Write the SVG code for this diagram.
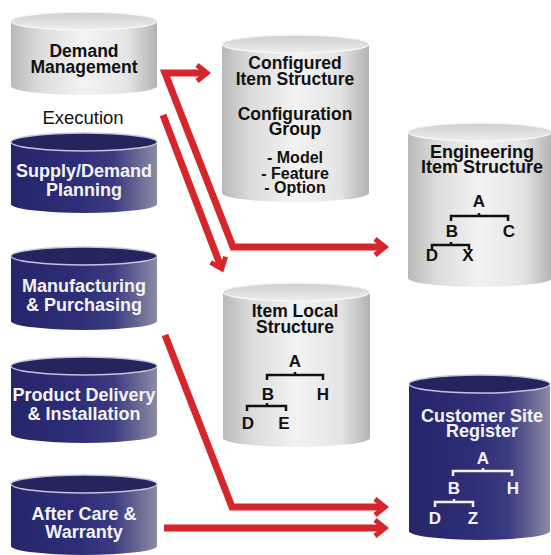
<svg xmlns="http://www.w3.org/2000/svg" width="551" height="555" viewBox="0 0 551 555">
<style>
.t{font-family:"Liberation Sans",Arial,sans-serif;font-weight:bold;text-anchor:middle}
.dk{fill:#111}
.wt{fill:#f4f4f8}
.lg{font-size:17.5px}
.nv{font-size:18px}
.sm{font-size:16px}
.tr{font-size:17px}
.gb{fill:url(#gBody)}
.gt{fill:url(#gTop);stroke:#f6f6f6;stroke-width:1.5}
.nb{fill:url(#nBody)}
.nt{fill:#24245f;stroke:#c4c4da;stroke-width:1.5}
.tb{fill:none;stroke:#111;stroke-width:2.5}
.tw{fill:none;stroke:#f4f4f8;stroke-width:2.5}
.ar{fill:none;stroke:#d7262b;stroke-width:7;stroke-linejoin:miter}
</style>
<defs>
<linearGradient id="gBody" x1="0" y1="0" x2="1" y2="0">
<stop offset="0" stop-color="#b9b9b9"/>
<stop offset="0.2" stop-color="#dcdcdc"/>
<stop offset="0.5" stop-color="#f3f3f3"/>
<stop offset="0.8" stop-color="#e4e4e4"/>
<stop offset="1" stop-color="#b3b3b3"/>
</linearGradient>
<linearGradient id="gTop" x1="0" y1="0" x2="0" y2="1">
<stop offset="0" stop-color="#cfcfcf"/>
<stop offset="1" stop-color="#ededed"/>
</linearGradient>
<linearGradient id="nBody" x1="0" y1="0" x2="1" y2="0">
<stop offset="0" stop-color="#25256a"/>
<stop offset="0.45" stop-color="#2e2e78"/>
<stop offset="0.7" stop-color="#3a3a80"/>
<stop offset="0.88" stop-color="#6a6a96"/>
<stop offset="1" stop-color="#8c8ca6"/>
</linearGradient>
<marker id="ah" markerUnits="userSpaceOnUse" viewBox="-14 -12 22 24" refX="-2" refY="0" markerWidth="22" markerHeight="24" orient="auto-start-reverse" overflow="visible">
<path d="M-10,-8 L0,0 L-10,8" fill="none" stroke="#d7262b" stroke-width="5" stroke-linejoin="miter"/>
</marker>
</defs>

<g id="demand-management">
<path class="gb" d="M11,21 L11,86 A73,9 0 0 0 157,86 L157,21 Z"/>
<ellipse class="gt" cx="84" cy="21" rx="73" ry="9"/>
<text class="t dk lg" x="84" y="57">Demand</text>
<text class="t dk lg" x="84" y="73">Management</text>
</g>

<g id="execution-label">
<text x="83" y="124" style="font-family:'Liberation Sans',Arial,sans-serif;font-size:18.5px;text-anchor:middle;fill:#111">Execution</text>
</g>

<g id="supply-demand-planning">
<path class="nb" d="M11,142 L11,204 A73,9 0 0 0 157,204 L157,142 Z"/>
<ellipse class="nt" cx="84" cy="142" rx="73" ry="9"/>
<text class="t wt nv" x="84" y="177">Supply/Demand</text>
<text class="t wt nv" x="84" y="196">Planning</text>
</g>

<g id="manufacturing-purchasing">
<path class="nb" d="M11,256 L11,321 A73,9 0 0 0 157,321 L157,256 Z"/>
<ellipse class="nt" cx="84" cy="256" rx="73" ry="9"/>
<text class="t wt nv" x="84" y="292">Manufacturing</text>
<text class="t wt nv" x="84" y="311">&amp; Purchasing</text>
</g>

<g id="product-delivery-installation">
<path class="nb" d="M11,366 L11,434 A73,9 0 0 0 157,434 L157,366 Z"/>
<ellipse class="nt" cx="84" cy="366" rx="73" ry="9"/>
<text class="t wt nv" x="84" y="401">Product Delivery</text>
<text class="t wt nv" x="84" y="420">&amp; Installation</text>
</g>

<g id="after-care-warranty">
<path class="nb" d="M11,484 L11,546 A73,9 0 0 0 157,546 L157,484 Z"/>
<ellipse class="nt" cx="84" cy="484" rx="73" ry="9"/>
<text class="t wt nv" x="84" y="520">After Care &amp;</text>
<text class="t wt nv" x="84" y="538">Warranty</text>
</g>

<g id="configured-item-structure">
<path class="gb" d="M222,44 L222,193 A73.5,9 0 0 0 369,193 L369,44 Z"/>
<ellipse class="gt" cx="295.5" cy="44" rx="73.5" ry="9"/>
<text class="t dk lg" x="295" y="69">Configured</text>
<text class="t dk lg" x="295" y="85">Item Structure</text>
<text class="t dk lg" x="295" y="120">Configuration</text>
<text class="t dk lg" x="295" y="135">Group</text>
<text class="t dk sm" x="295" y="163">- Model</text>
<text class="t dk sm" x="295" y="179">- Feature</text>
<text class="t dk sm" x="295" y="193">- Option</text>
</g>

<g id="engineering-item-structure">
<path class="gb" d="M408,132 L408,278 A72,9 0 0 0 552,278 L552,132 Z"/>
<ellipse class="gt" cx="480" cy="132" rx="72" ry="9"/>
<text class="t dk nv" x="482" y="158">Engineering</text>
<text class="t dk nv" x="482" y="173">Item Structure</text>
<path class="tb" d="M451,221 V216 H508 V221 M479,216 V213 M432,250 V245 H469 V250 M451,245 V242"/>
<text class="t dk tr" x="479" y="207">A</text>
<text class="t dk tr" x="452" y="237">B</text>
<text class="t dk tr" x="509" y="237">C</text>
<text class="t dk tr" x="432" y="261">D</text>
<text class="t dk tr" x="468" y="261">X</text>
</g>

<g id="item-local-structure">
<path class="gb" d="M223,292 L223,438 A73.5,9 0 0 0 370,438 L370,292 Z"/>
<ellipse class="gt" cx="296.5" cy="292" rx="73.5" ry="9"/>
<text class="t dk lg" x="295" y="317">Item Local</text>
<text class="t dk lg" x="295" y="333">Structure</text>
<path class="tb" d="M267,380 V375 H323 V380 M295,375 V372 M247,411 V406 H286 V411 M267,406 V403"/>
<text class="t dk tr" x="295" y="367">A</text>
<text class="t dk tr" x="268" y="400">B</text>
<text class="t dk tr" x="323" y="400">H</text>
<text class="t dk tr" x="248" y="429">D</text>
<text class="t dk tr" x="284" y="429">E</text>
</g>

<g id="customer-site-register">
<path class="nb" d="M409,384 L409,531 A70.5,9 0 0 0 550,531 L550,384 Z"/>
<ellipse class="nt" cx="479.5" cy="384" rx="70.5" ry="9"/>
<text class="t wt nv" x="482" y="422">Customer Site</text>
<text class="t wt nv" x="482" y="437">Register</text>
<path class="tw" d="M453,476 V471 H512 V476 M483,471 V468 M435,507 V502 H473 V507 M454,502 V499"/>
<text class="t wt tr" x="483" y="464">A</text>
<text class="t wt tr" x="454" y="494">B</text>
<text class="t wt tr" x="513" y="494">H</text>
<text class="t wt tr" x="435" y="524">D</text>
<text class="t wt tr" x="473" y="524">Z</text>
</g>

<g id="connectors">
<path class="ar" d="M205,73 L165,73 L233,247 L383,247" marker-start="url(#ah)" marker-end="url(#ah)"/>
<path class="ar" d="M163,115 L221,267" marker-end="url(#ah)"/>
<path class="ar" d="M165,335 L232,507 L383,507" marker-end="url(#ah)"/>
<path class="ar" d="M164,528 L383,528" marker-end="url(#ah)"/>
</g>
</svg>
